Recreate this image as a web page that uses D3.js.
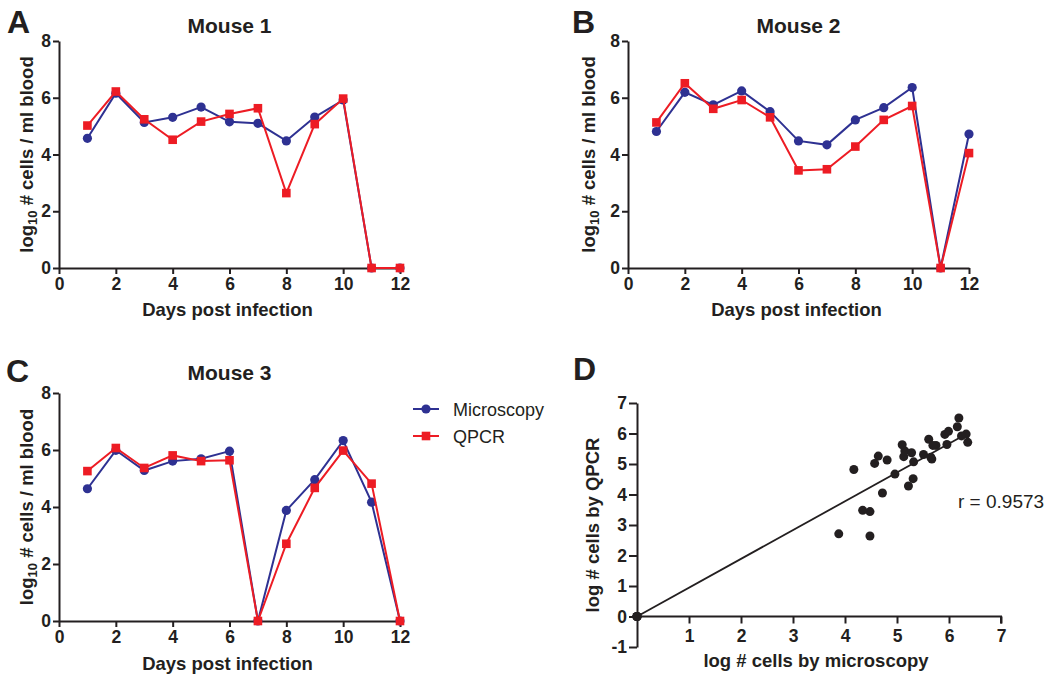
<!DOCTYPE html>
<html>
<head>
<meta charset="utf-8">
<script src="https://cdn.jsdelivr.net/npm/d3@7/dist/d3.min.js"></script>
<style>
  html, body { margin: 0; padding: 0; background: #fff; }
  svg { display: block; }
  text { font-family: "Liberation Sans", Arial, Helvetica, sans-serif; fill: #231f20; }
</style>
</head>
<body>
<svg id="chart" width="1050" height="680"></svg>
<script>
// ---------------- DATA ----------------
const days = [1, 2, 3, 4, 5, 6, 7, 8, 9, 10, 11, 12];
const dayTicks = [0, 2, 4, 6, 8, 10, 12];
const logTicks = [0, 2, 4, 6, 8];

const mouse1Microscopy = [4.57, 6.16, 5.13, 5.31, 5.67, 5.15, 5.10, 4.48, 5.32, 5.92, 0, 0];
const mouse1QPCR       = [5.02, 6.22, 5.24, 4.52, 5.16, 5.43, 5.63, 2.64, 5.07, 5.97, 0, 0];

const mouse2Microscopy = [4.81, 6.19, 5.75, 6.24, 5.51, 4.48, 4.34, 5.22, 5.65, 6.36, 0, 4.72];
const mouse2QPCR       = [5.13, 6.51, 5.61, 5.92, 5.31, 3.44, 3.48, 4.28, 5.22, 5.71, 0, 4.05];

const mouse3Microscopy = [4.64, 5.99, 5.28, 5.61, 5.69, 5.96, 0, 3.88, 4.96, 6.33, 4.17, 0];
const mouse3QPCR       = [5.26, 6.07, 5.37, 5.81, 5.61, 5.64, 0, 2.71, 4.67, 5.98, 4.82, 0];

const panelTitles = ["Mouse 1", "Mouse 2", "Mouse 3"];
const panelLetters = ["A", "B", "C", "D"];
const seriesNames = ["Microscopy", "QPCR"];

// correlation panel
const corrXTicks = [1, 2, 3, 4, 5, 6, 7];
const corrYTicks = [-1, 0, 1, 2, 3, 4, 5, 6, 7];
const fitX = [0, 6.3];
const fitY = [0, 5.95];
const corrLabel = "r = 0.9573";

// ---------------- STYLE ----------------
const BLUE = "#2e3192";
const RED = "#ed1c24";
const INK = "#231f20";
const TICK_FONT = 17.5;
const intFmt = d => String(d);   // plain hyphen for negatives

const svg = d3.select("#chart");

function styleAxis(g, fontSize) {
  g.select(".domain").attr("stroke", INK).attr("stroke-width", 2);
  g.selectAll(".tick line").attr("stroke", INK).attr("stroke-width", 2);
  g.selectAll(".tick text")
    .attr("fill", INK)
    .style("font-family", '"Liberation Sans", Arial, sans-serif')
    .style("font-weight", "bold")
    .style("font-size", fontSize + "px");
}

function linePanel(cfg) {
  const x = d3.scaleLinear().domain([0, 12]).range([cfg.left, cfg.right]);
  const y = d3.scaleLinear().domain([0, 8]).range([cfg.bottom, cfg.top]);

  const gx = svg.append("g").attr("transform", `translate(0,${cfg.bottom})`)
    .call(d3.axisBottom(x).tickValues(dayTicks).tickFormat(intFmt).tickSize(6).tickSizeOuter(0).tickPadding(4));
  styleAxis(gx, TICK_FONT);

  const gy = svg.append("g").attr("transform", `translate(${cfg.left},0)`)
    .call(d3.axisLeft(y).tickValues(logTicks).tickFormat(intFmt).tickSize(6).tickSizeOuter(0).tickPadding(2));
  styleAxis(gy, TICK_FONT);

  // title
  svg.append("text").attr("x", (cfg.left + cfg.right) / 2).attr("y", cfg.titleY)
    .attr("text-anchor", "middle").style("font-weight", "bold").style("font-size", "21px")
    .text(cfg.title);

  // panel letter
  svg.append("text").attr("x", cfg.letterX).attr("y", cfg.letterY)
    .style("font-weight", "bold").style("font-size", "32px").text(cfg.letter);

  // x label
  svg.append("text").attr("x", (cfg.left + cfg.right) / 2 - 2).attr("y", cfg.xLabelY)
    .attr("text-anchor", "middle").style("font-weight", "bold").style("font-size", "18.5px")
    .text("Days post infection");

  // y label
  const yl = svg.append("text")
    .attr("transform", `translate(${cfg.yLabelX},${(cfg.top + cfg.bottom) / 2}) rotate(-90)`)
    .attr("text-anchor", "middle").style("font-weight", "bold").style("font-size", "18.5px");
  yl.append("tspan").text("log");
  yl.append("tspan").attr("dy", 4).style("font-size", "13px").text("10");
  yl.append("tspan").attr("dy", -4).text(" # cells / ml blood");

  const line = d3.line().x((d, i) => x(days[i])).y(d => y(d));

  // Microscopy (blue, circles)
  svg.append("path").datum(cfg.micro).attr("d", line)
    .attr("fill", "none").attr("stroke", BLUE).attr("stroke-width", 2);
  svg.append("g").selectAll("circle").data(cfg.micro).join("circle")
    .attr("cx", (d, i) => x(days[i])).attr("cy", d => y(d)).attr("r", 4.6).attr("fill", BLUE);

  // QPCR (red, squares)
  svg.append("path").datum(cfg.qpcr).attr("d", line)
    .attr("fill", "none").attr("stroke", RED).attr("stroke-width", 2);
  const s = 8.6;
  svg.append("g").selectAll("rect").data(cfg.qpcr).join("rect")
    .attr("x", (d, i) => x(days[i]) - s / 2).attr("y", d => y(d) - s / 2)
    .attr("width", s).attr("height", s).attr("fill", RED);
}

linePanel({ left: 59, right: 400, top: 41, bottom: 268, title: panelTitles[0], titleY: 33,
  letter: panelLetters[0], letterX: 7, letterY: 33, xLabelY: 316, yLabelX: 33,
  micro: mouse1Microscopy, qpcr: mouse1QPCR });
linePanel({ left: 628, right: 969, top: 41, bottom: 268, title: panelTitles[1], titleY: 33,
  letter: panelLetters[1], letterX: 572, letterY: 33, xLabelY: 316, yLabelX: 595,
  micro: mouse2Microscopy, qpcr: mouse2QPCR });
linePanel({ left: 59, right: 400, top: 393, bottom: 621, title: panelTitles[2], titleY: 380,
  letter: panelLetters[2], letterX: 6, letterY: 382, xLabelY: 670, yLabelX: 33,
  micro: mouse3Microscopy, qpcr: mouse3QPCR });

// ---------------- LEGEND ----------------
const legend = svg.append("g").attr("transform", "translate(413,409)");
seriesNames.forEach((name, i) => {
  const g = legend.append("g").attr("transform", `translate(0,${i * 27})`);
  const col = i === 0 ? BLUE : RED;
  g.append("line").attr("x1", 0).attr("x2", 26).attr("y1", 0).attr("y2", 0)
    .attr("stroke", col).attr("stroke-width", 2);
  if (i === 0) g.append("circle").attr("cx", 13).attr("cy", 0).attr("r", 4.6).attr("fill", col);
  else g.append("rect").attr("x", 13 - 4.3).attr("y", -4.3).attr("width", 8.6).attr("height", 8.6).attr("fill", col);
  g.append("text").attr("x", 40).attr("y", 6.5).style("font-size", "18px").text(name);
});

// ---------------- PANEL D ----------------
const microAll = mouse1Microscopy.concat(mouse2Microscopy, mouse3Microscopy);
const qpcrAll = mouse1QPCR.concat(mouse2QPCR, mouse3QPCR);
const pairs = microAll.map((m, i) => [m, qpcrAll[i]]);

const dx = d3.scaleLinear().domain([0, 7]).range([637, 1001]);
const dy = d3.scaleLinear().domain([-1, 7]).range([647, 403]);

const dgx = svg.append("g").attr("transform", `translate(0,${dy(0)})`)
  .call(d3.axisBottom(dx).tickValues(corrXTicks).tickFormat(intFmt).tickSize(7).tickSizeOuter(0).tickPadding(6));
styleAxis(dgx, TICK_FONT);
dgx.select(".domain").attr("d", `M${dx(0)},0H${dx(7)}V7`);

const dgy = svg.append("g").attr("transform", `translate(${dx(0)},0)`)
  .call(d3.axisLeft(dy).tickValues(corrYTicks).tickFormat(intFmt).tickSize(8).tickSizeOuter(0).tickPadding(2));
styleAxis(dgy, TICK_FONT);

svg.append("text").attr("x", 573).attr("y", 380)
  .style("font-weight", "bold").style("font-size", "32px").text(panelLetters[3]);

svg.append("text").attr("x", 816).attr("y", 667).attr("text-anchor", "middle")
  .style("font-weight", "bold").style("font-size", "18.5px").text("log # cells by microscopy");
svg.append("text").attr("transform", `translate(599,${(dy(-1) + dy(7)) / 2}) rotate(-90)`)
  .attr("text-anchor", "middle").style("font-weight", "bold").style("font-size", "18.5px")
  .text("log # cells by QPCR");

svg.append("path").datum(fitX.map((v, i) => [v, fitY[i]]))
  .attr("d", d3.line().x(d => dx(d[0])).y(d => dy(d[1])))
  .attr("fill", "none").attr("stroke", INK).attr("stroke-width", 1.8);

svg.append("g").selectAll("circle").data(pairs).join("circle")
  .attr("cx", d => dx(d[0])).attr("cy", d => dy(d[1])).attr("r", 4.5).attr("fill", INK);

svg.append("text").attr("x", 958).attr("y", 508).style("font-size", "19px").text(corrLabel);
</script>
</body>
</html>
